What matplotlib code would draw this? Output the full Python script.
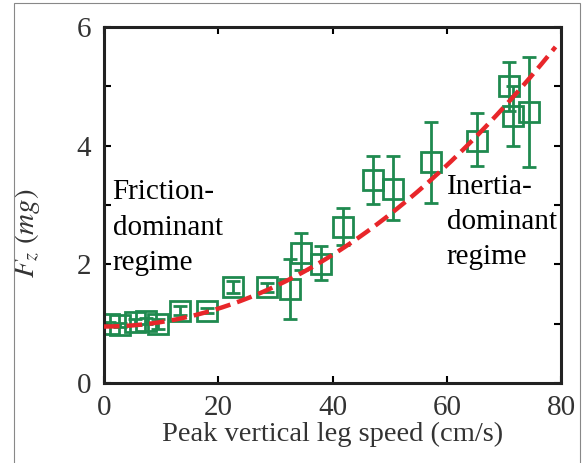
import numpy as np
import matplotlib.pyplot as plt
from matplotlib.patches import Rectangle

plt.rcParams['font.family'] = 'serif'
plt.rcParams['font.serif'] = ['Liberation Serif']
plt.rcParams['mathtext.fontset'] = 'stix'

# measured points: leg speed (cm/s), force (mg), half error bar
speed = [0.8, 2.8, 5.5, 7.3, 9.5, 13.3, 18.0, 22.6, 28.6, 32.5, 34.4, 37.9,
         41.9, 47.0, 50.5, 57.2, 65.3, 70.9, 71.6, 74.4]
force = [1.0, 0.98, 1.03, 1.05, 0.99, 1.22, 1.22, 1.61, 1.61, 1.58, 2.19, 2.0,
         2.62, 3.42, 3.27, 3.72, 4.08, 5.0, 4.5, 4.57]
err_lo = [0.03, 0.03, 0.05, 0.05, 0.08, 0.07, 0.05, 0.1, 0.07, 0.5, 0.28, 0.27,
          0.3, 0.41, 0.53, 0.68, 0.42, 0.42, 0.5, 0.93]
err_hi = [0.03, 0.03, 0.05, 0.05, 0.08, 0.07, 0.05, 0.1, 0.07, 0.5, 0.33, 0.3,
          0.33, 0.41, 0.55, 0.67, 0.47, 0.41, 0.5, 0.92]

# quadratic fit  F = c0 + c2 * v^2
fit_c0 = 0.95
fit_c2 = 0.000755

green = '#1f8a4f'

fig = plt.figure(figsize=(5.84, 4.63), dpi=100)
ax = fig.add_axes([0.178, 0.173, 0.783, 0.769])

# outer frame
fig.patches.append(Rectangle((14 / 584, -0.1), (580 - 14) / 584, 1.1 - 3 / 463,
                             transform=fig.transFigure, fill=False,
                             edgecolor='#888888', linewidth=0.8))

v = np.linspace(0, 79, 200)
ax.plot(v, fit_c0 + fit_c2 * v ** 2, color='#e8262a', linestyle=(0, (3.5, 1.6)),
        linewidth=3.2, zorder=3)

ax.errorbar(speed, force, yerr=[err_lo, err_hi], fmt='s', mfc='none', mec=green,
            ms=14, mew=2, ecolor=green, elinewidth=2, capsize=5, capthick=2,
            zorder=2)

ax.text(1.5, 3.43, 'Friction-\ndominant\nregime', fontsize=21, va='top',
        ha='left', linespacing=1.47)
ax.text(60.0, 3.52, 'Inertia-\ndominant\nregime', fontsize=21, va='top',
        ha='left', linespacing=1.45)

ax.set_xlim(0, 80)
ax.set_ylim(0, 6)
ax.set_xticks([0, 20, 40, 60, 80])
ax.set_yticks([0, 1, 2, 3, 4, 5, 6])
ax.set_yticklabels(['0', '', '2', '', '4', '', '6'])
ax.tick_params(direction='in', length=5, width=1.5, labelsize=21,
               top=True, right=True, pad=9, labelcolor='#333333')
for s in ax.spines.values():
    s.set_linewidth(2.2)
    s.set_color('#222222')

ax.set_xlabel('Peak vertical leg speed (cm/s)', fontsize=20.5, color='#333333',
              labelpad=0)
ax.set_ylabel(r'$F_z\ (mg)$', fontsize=21, color='#333333')
ax.yaxis.set_label_coords(-0.135, 0.42)

fig.savefig('out.png', dpi=100)
